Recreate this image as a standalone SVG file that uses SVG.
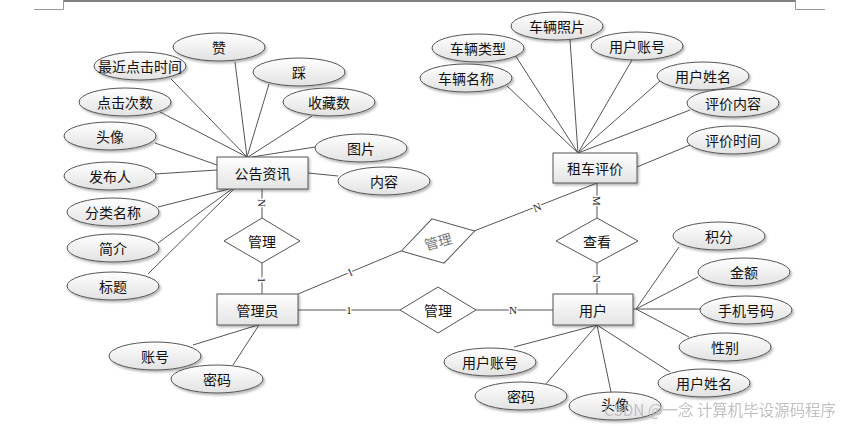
<svg xmlns="http://www.w3.org/2000/svg" width="847" height="426" viewBox="0 0 847 426">
<defs>
<linearGradient id="gE" x1="0" y1="0" x2="0" y2="1"><stop offset="0" stop-color="#ffffff"/><stop offset="1" stop-color="#e2e2e2"/></linearGradient>
<linearGradient id="gR" x1="0" y1="0" x2="0" y2="1"><stop offset="0" stop-color="#ffffff"/><stop offset="1" stop-color="#e4e4e4"/></linearGradient>
<filter id="sh" x="-20%" y="-20%" width="140%" height="150%"><feDropShadow dx="1.5" dy="2" stdDeviation="1.2" flood-color="#000" flood-opacity="0.28"/></filter>
<style>
.ell{fill:url(#gE);stroke:#555;stroke-width:1;filter:url(#sh)}
.ent{fill:url(#gR);stroke:#555;stroke-width:1;filter:url(#sh)}
.rel{fill:#fff;stroke:#555;stroke-width:1}
.t{font-family:"Noto Sans CJK SC","Microsoft YaHei",sans-serif;font-size:14px;fill:#111;text-anchor:middle;dominant-baseline:central}
.c line{stroke:#555;stroke-width:1;fill:none}
.lb{font-family:"Liberation Serif",serif;font-size:11px;fill:#222;text-anchor:middle;dominant-baseline:central;stroke:#fff;stroke-width:3;paint-order:stroke}
.pg{stroke:#999;stroke-width:1;fill:none}
.wm{font-family:"Noto Sans CJK SC",sans-serif;font-size:16px;fill:#bbb;opacity:0.9}
</style>
</defs>
<rect width="847" height="426" fill="#fff"/>
<g id="page">
<line x1="63" y1="1" x2="795" y2="1" style="stroke:#808080;stroke-width:2"/>
<polyline class="pg" points="34,9.5 63.5,9.5 63.5,0"/>
<polyline class="pg" points="795.5,0 795.5,9.5 825,9.5"/>
</g>
<g id="connectors" class="c">
<line x1="235" y1="62" x2="247" y2="157"/>
<line x1="171" y1="79" x2="247" y2="157"/>
<line x1="269" y1="84" x2="247" y2="157"/>
<line x1="160" y1="112" x2="247" y2="157"/>
<line x1="312" y1="116" x2="248" y2="157"/>
<line x1="315" y1="147" x2="252" y2="157"/>
<line x1="155" y1="143" x2="217" y2="165"/>
<line x1="155" y1="174" x2="217" y2="170"/>
<line x1="158" y1="207" x2="229" y2="189"/>
<line x1="158" y1="243" x2="232" y2="189"/>
<line x1="148" y1="274" x2="234" y2="189"/>
<line x1="308" y1="173" x2="338" y2="176"/>
<line x1="507" y1="86" x2="578" y2="153"/>
<line x1="515" y1="55" x2="578" y2="153"/>
<line x1="570" y1="40" x2="578" y2="153"/>
<line x1="632" y1="60" x2="578" y2="153"/>
<line x1="661" y1="80" x2="578" y2="153"/>
<line x1="690" y1="110" x2="578" y2="153"/>
<line x1="690" y1="145" x2="637" y2="167"/>
<line x1="679" y1="247" x2="636" y2="309"/>
<line x1="698" y1="277" x2="636" y2="309"/>
<line x1="700" y1="309" x2="633" y2="309"/>
<line x1="689" y1="337" x2="636" y2="309"/>
<line x1="514" y1="347" x2="597" y2="325"/>
<line x1="545" y1="385" x2="597" y2="325"/>
<line x1="611" y1="392" x2="597" y2="325"/>
<line x1="670" y1="372" x2="597" y2="325"/>
<line x1="193" y1="345" x2="258" y2="325"/>
<line x1="233" y1="365" x2="259" y2="325"/>
<line x1="262" y1="189" x2="262" y2="218"/>
<line x1="262" y1="263" x2="262" y2="294"/>
<line x1="298" y1="310" x2="400" y2="310"/>
<line x1="476" y1="310" x2="553" y2="310"/>
<line x1="298" y1="294" x2="401" y2="251"/>
<line x1="474" y1="231" x2="597" y2="183"/>
<line x1="597" y1="183" x2="597" y2="218"/>
<line x1="597" y1="263" x2="597" y2="294"/>
<text class="lb" transform="translate(262,203) rotate(90)">N</text>
<text class="lb" transform="translate(262,280) rotate(90)">1</text>
<text class="lb" x="349" y="310">1</text>
<text class="lb" x="513" y="310">N</text>
<text class="lb" transform="translate(350,272) rotate(-23)">1</text>
<text class="lb" transform="translate(537,207) rotate(-21)">N</text>
<text class="lb" transform="translate(597,201) rotate(90)">M</text>
<text class="lb" transform="translate(597,279) rotate(90)">N</text>
</g>
<g id="e-gonggao"><rect class="ent" x="217" y="157" width="91" height="32"/><text class="t" x="262.5" y="173">公告资讯</text></g>
<g id="e-guanliyuan"><rect class="ent" x="217" y="294" width="81" height="31"/><text class="t" x="257.5" y="309.5">管理员</text></g>
<g id="e-zuche"><rect class="ent" x="553" y="153" width="84" height="30"/><text class="t" x="595" y="168">租车评价</text></g>
<g id="e-yonghu"><rect class="ent" x="553" y="294" width="80" height="31"/><text class="t" x="593" y="309.5">用户</text></g>
<g id="r-guanli1"><polygon class="rel" points="224,241 262,218 300,241 262,263"/><text class="t" x="262" y="241">管理</text></g>
<g id="r-guanli2"><polygon class="rel" points="400,310 438,287 476,310 438,333"/><text class="t" x="438" y="310">管理</text></g>
<g id="r-guanli3" transform="translate(438,241) rotate(-15.3)"><polygon class="rel" points="-38,0 0,-23 38,0 0,23"/><text class="t" x="0" y="0" style="fill:#777">管理</text></g>
<g id="r-chakan"><polygon class="rel" points="556,241 597,218 638,241 597,263"/><text class="t" x="597" y="241">查看</text></g>
<g id="a-zan"><ellipse class="ell" cx="219" cy="47" rx="46" ry="14"/><text class="t" x="219" y="47">赞</text></g>
<g id="a-zuijin"><ellipse class="ell" cx="140" cy="66" rx="46" ry="14"/><text class="t" x="140" y="66">最近点击时间</text></g>
<g id="a-cai"><ellipse class="ell" cx="299" cy="72" rx="46" ry="14"/><text class="t" x="299" y="72">踩</text></g>
<g id="a-dianji"><ellipse class="ell" cx="125" cy="102" rx="46" ry="14"/><text class="t" x="125" y="102">点击次数</text></g>
<g id="a-shoucang"><ellipse class="ell" cx="329" cy="102" rx="46" ry="14"/><text class="t" x="329" y="102">收藏数</text></g>
<g id="a-touxiang1"><ellipse class="ell" cx="110" cy="136" rx="46" ry="14"/><text class="t" x="110" y="136">头像</text></g>
<g id="a-tupian"><ellipse class="ell" cx="361" cy="148" rx="46" ry="14"/><text class="t" x="361" y="148">图片</text></g>
<g id="a-neirong"><ellipse class="ell" cx="384" cy="181" rx="46" ry="14"/><text class="t" x="384" y="181">内容</text></g>
<g id="a-faburen"><ellipse class="ell" cx="110" cy="176" rx="46" ry="14"/><text class="t" x="110" y="176">发布人</text></g>
<g id="a-fenlei"><ellipse class="ell" cx="113" cy="212" rx="46" ry="14"/><text class="t" x="113" y="212">分类名称</text></g>
<g id="a-jianjie"><ellipse class="ell" cx="113" cy="248" rx="46" ry="14"/><text class="t" x="113" y="248">简介</text></g>
<g id="a-biaoti"><ellipse class="ell" cx="113" cy="286" rx="46" ry="14"/><text class="t" x="113" y="286">标题</text></g>
<g id="a-cheliangzhaopian"><ellipse class="ell" cx="557" cy="26" rx="46" ry="14"/><text class="t" x="557" y="26">车辆照片</text></g>
<g id="a-cheliangleixing"><ellipse class="ell" cx="478" cy="48" rx="46" ry="14"/><text class="t" x="478" y="48">车辆类型</text></g>
<g id="a-yonghuzhanghao1"><ellipse class="ell" cx="637" cy="46" rx="46" ry="14"/><text class="t" x="637" y="46">用户账号</text></g>
<g id="a-cheliangmingcheng"><ellipse class="ell" cx="466" cy="78" rx="46" ry="14"/><text class="t" x="466" y="78">车辆名称</text></g>
<g id="a-yonghuxingming1"><ellipse class="ell" cx="703" cy="76" rx="46" ry="14"/><text class="t" x="703" y="76">用户姓名</text></g>
<g id="a-pingjianeirong"><ellipse class="ell" cx="733" cy="103" rx="46" ry="14"/><text class="t" x="733" y="103">评价内容</text></g>
<g id="a-pingjiashijian"><ellipse class="ell" cx="733" cy="140" rx="46" ry="14"/><text class="t" x="733" y="140">评价时间</text></g>
<g id="a-jifen"><ellipse class="ell" cx="719" cy="236" rx="46" ry="14"/><text class="t" x="719" y="236">积分</text></g>
<g id="a-jine"><ellipse class="ell" cx="744" cy="272" rx="46" ry="14"/><text class="t" x="744" y="272">金额</text></g>
<g id="a-shouji"><ellipse class="ell" cx="746" cy="310" rx="46" ry="14"/><text class="t" x="746" y="310">手机号码</text></g>
<g id="a-xingbie"><ellipse class="ell" cx="725" cy="347" rx="46" ry="14"/><text class="t" x="725" y="347">性别</text></g>
<g id="a-yonghuxingming2"><ellipse class="ell" cx="704" cy="383" rx="46" ry="14"/><text class="t" x="704" y="383">用户姓名</text></g>
<g id="a-yonghuzhanghao2"><ellipse class="ell" cx="490" cy="362" rx="46" ry="14"/><text class="t" x="490" y="362">用户账号</text></g>
<g id="a-mima2"><ellipse class="ell" cx="521" cy="396" rx="46" ry="14"/><text class="t" x="521" y="396">密码</text></g>
<g id="a-touxiang2"><ellipse class="ell" cx="615" cy="406" rx="46" ry="14"/><text class="t" x="615" y="404">头像</text></g>
<g id="a-zhanghao"><ellipse class="ell" cx="155" cy="356" rx="46" ry="14"/><text class="t" x="155" y="356">账号</text></g>
<g id="a-mima1"><ellipse class="ell" cx="217" cy="379" rx="46" ry="14"/><text class="t" x="217" y="379">密码</text></g>
<text class="wm" x="604" y="416" textLength="232" lengthAdjust="spacingAndGlyphs">CSDN @一念 计算机毕设源码程序</text>
</svg>
